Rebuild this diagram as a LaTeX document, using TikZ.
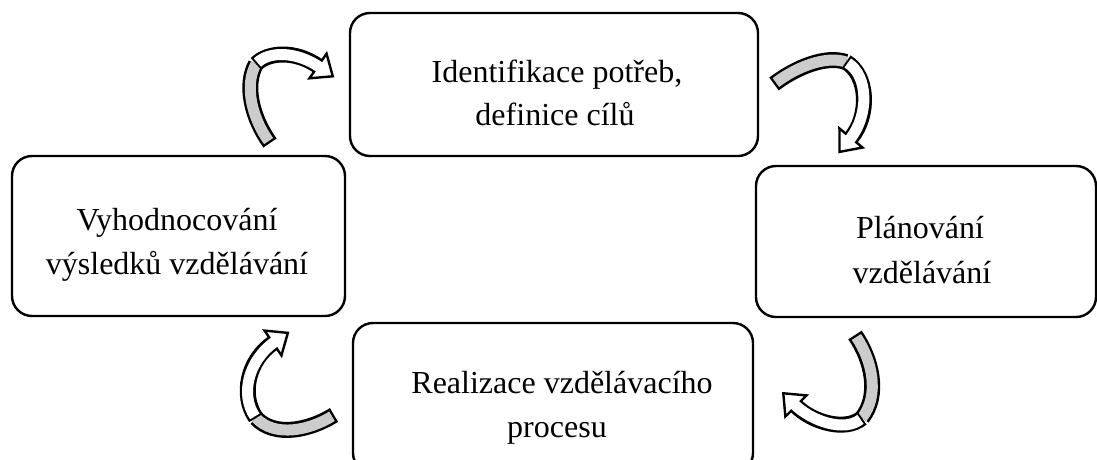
\documentclass[tikz,border=0pt]{standalone}
\usepackage{fontspec}
\setmainfont{Liberation Serif}
\usetikzlibrary{calc}
\definecolor{bandgray}{RGB}{204,204,204}
\tikzset{
  box/.style={draw=black, line width=2.4pt, rounded corners=20pt, fill=white, inner sep=0pt},
  txt/.style={anchor=base, inner sep=0pt, font=\fontsize{32}{44}\selectfont},
  bandout/.style={draw=black, line width=16pt, line cap=butt},
  bandgrayin/.style={draw=bandgray, line width=11pt, line cap=butt, shorten <=2.4pt},
  bandwhitein/.style={draw=white, line width=11pt, line cap=butt, shorten <=2pt, shorten >=-3pt},
  headst/.style={draw=black, fill=white, line width=2.4pt, line join=miter}
}
\newcommand{\ribbonarrow}[7]{%
  \draw[bandout] (#1) .. controls (#2) and (#3) .. (#4);
  \draw[bandgrayin] (#1) .. controls (#2) and (#3) .. (#4);
  \draw[bandout] (#4) .. controls (#5) and (#6) .. (#7);
  \draw[headst] ($(#7)!15pt!90:(#6)$) -- ($(#7)!-18pt!(#6)$) -- ($(#7)!15pt!-90:(#6)$) -- cycle;
  \draw[bandwhitein] (#4) .. controls (#5) and (#6) .. (#7);
}
\begin{document}
\begin{tikzpicture}[x=1pt,y=1pt]
\useasboundingbox (0,0) rectangle (1097,-459);
\clip (0,0) rectangle (1097,-459);
\fill[white] (0,0) rectangle (1097,-459);

% boxes
\node[box, minimum width=408pt, minimum height=143pt] (top) at (554,-84.5) {};
\node[box, minimum width=333pt, minimum height=160pt] (left) at (178.5,-236) {};
\node[box, minimum width=340pt, minimum height=151pt] (right) at (926,-241.5) {};
\node[box, minimum width=400pt, minimum height=150pt] (bottom) at (553,-398) {};

% texts
\node[txt] (t1a) at (557,-82) {Identifikace potřeb,};
\node[txt] (t1b) at (555,-125) {definice cílů};
\node[txt] (t2a) at (177,-230) {Vyhodnocování};
\node[txt] (t2b) at (177,-274) {výsledků vzdělávání};
\node[txt] (t3a) at (920,-238) {Plánování};
\node[txt] (t3b) at (922,-283) {vzdělávání};
\node[txt] (t4a) at (562,-393) {Realizace vzdělávacího};
\node[txt] (t4b) at (557,-437) {procesu};

% arrow 1: left -> top
\coordinate (a1s) at (270,-143);
\coordinate (a1c1) at (252,-118);
\coordinate (a1c2) at (244,-85);
\coordinate (a1j) at (256,-64);
\coordinate (a1c3) at (268,-52);
\coordinate (a1c4) at (295,-50);
\coordinate (a1e) at (318,-66);
\ribbonarrow{a1s}{a1c1}{a1c2}{a1j}{a1c3}{a1c4}{a1e}

% arrow 2: top -> right
\coordinate (a2s) at (774,-84);
\coordinate (a2c1) at (795,-68);
\coordinate (a2c2) at (825,-55);
\coordinate (a2j) at (846,-62);
\coordinate (a2c3) at (868,-75);
\coordinate (a2c4) at (870,-115);
\coordinate (a2e) at (851,-138);
\ribbonarrow{a2s}{a2c1}{a2c2}{a2j}{a2c3}{a2c4}{a2e}

% arrow 3: right -> bottom
\coordinate (a3s) at (855,-335);
\coordinate (a3c1) at (872,-360);
\coordinate (a3c2) at (880,-395);
\coordinate (a3j) at (862,-418);
\coordinate (a3c3) at (845,-432);
\coordinate (a3c4) at (812,-422);
\coordinate (a3e) at (796,-406);
\ribbonarrow{a3s}{a3c1}{a3c2}{a3j}{a3c3}{a3c4}{a3e}

% arrow 4: bottom -> left
\coordinate (a4s) at (334,-415);
\coordinate (a4c1) at (310,-430);
\coordinate (a4c2) at (275,-438);
\coordinate (a4j) at (256,-418);
\coordinate (a4c3) at (240,-395);
\coordinate (a4c4) at (248,-360);
\coordinate (a4e) at (273,-343);
\ribbonarrow{a4s}{a4c1}{a4c2}{a4j}{a4c3}{a4c4}{a4e}
\end{tikzpicture}
\end{document}
